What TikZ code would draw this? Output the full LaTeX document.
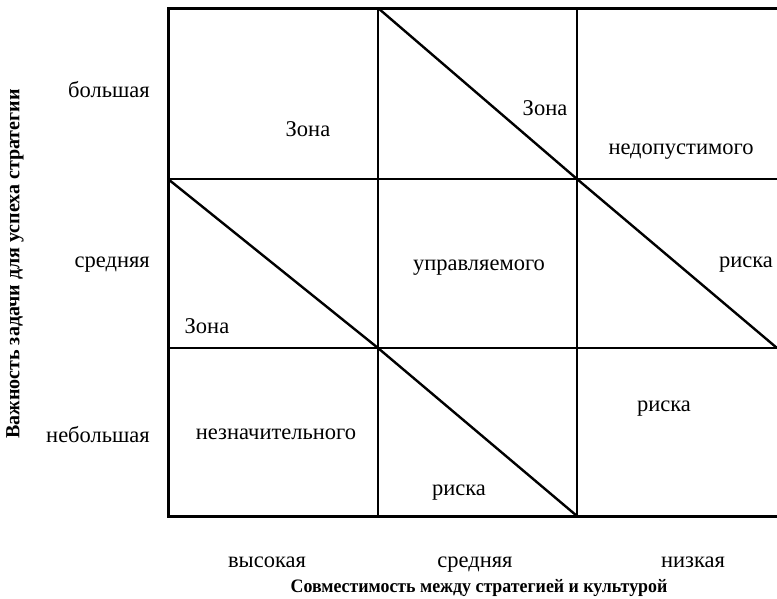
\documentclass[tikz,border=0pt]{standalone}
\usepackage{fontspec}
\setmainfont{Liberation Serif}
\begin{document}
\begin{tikzpicture}[x=1pt,y=-1pt,
  outer/.style={line width=3pt},
  inner/.style={line width=1.8pt},
  diag/.style={line width=2.4pt},
  lbl/.style={font=\fontsize{22.5}{26}\selectfont, inner sep=0pt, anchor=base},
  axis/.style={font=\bfseries\fontsize{19}{22}\selectfont, inner sep=0pt, anchor=base}]
\useasboundingbox (0,0) rectangle (777,598);
% grid coordinates
\coordinate (a1) at (168,8);   \coordinate (b1) at (378,8);   \coordinate (c1) at (577,8);   \coordinate (d1) at (777,8);
\coordinate (a2) at (168,179); \coordinate (b2) at (378,179); \coordinate (c2) at (577,179); \coordinate (d2) at (777,179);
\coordinate (a3) at (168,348); \coordinate (b3) at (378,348); \coordinate (c3) at (577,348); \coordinate (d3) at (777,348);
\coordinate (a4) at (168,516); \coordinate (b4) at (378,516); \coordinate (c4) at (577,516); \coordinate (d4) at (777,516);
% inner lines
\draw[inner] (a2) -- (d2);
\draw[inner] (a3) -- (d3);
\draw[inner] (b1) -- (b4);
\draw[inner] (c1) -- (c4);
% outer lines
\draw[outer] (d1) -- (a1) -- (a4) -- (d4);
% diagonals
\draw[diag] (b1) -- (c2);
\draw[diag] (a2) -- (b3);
\draw[diag] (c2) -- (d3);
\draw[diag] (b3) -- (c4);
% cell texts
\node[lbl] (t1) at (308,136) {Зона};
\node[lbl] (t2) at (545,115) {Зона};
\node[lbl] (t3) at (681,154) {недопустимого};
\node[lbl] (t4) at (479,270) {управляемого};
\node[lbl] (t5) at (746,267) {риска};
\node[lbl] (t6) at (207,333) {Зона};
\node[lbl] (t7) at (276,439) {незначительного};
\node[lbl] (t8) at (664,411) {риска};
\node[lbl] (t9) at (459,495) {риска};
% row labels
\node[lbl, anchor=base east] (r1) at (150,97) {большая};
\node[lbl, anchor=base east] (r2) at (150,267) {средняя};
\node[lbl, anchor=base east] (r3) at (150,442) {небольшая};
% column labels
\node[lbl] (c1l) at (267,567) {высокая};
\node[lbl] (c2l) at (475,567) {средняя};
\node[lbl] (c3l) at (693,567) {низкая};
% axis titles
\node[axis] (xt) at (479,592) {\scalebox{0.94}[1]{Совместимость между стратегией и культурой}};
\node[axis, rotate=90, anchor=center, font=\bfseries\fontsize{20}{24}\selectfont] (yt) at (15,264) {Важность задачи для успеха стратегии};
\end{tikzpicture}
\end{document}
